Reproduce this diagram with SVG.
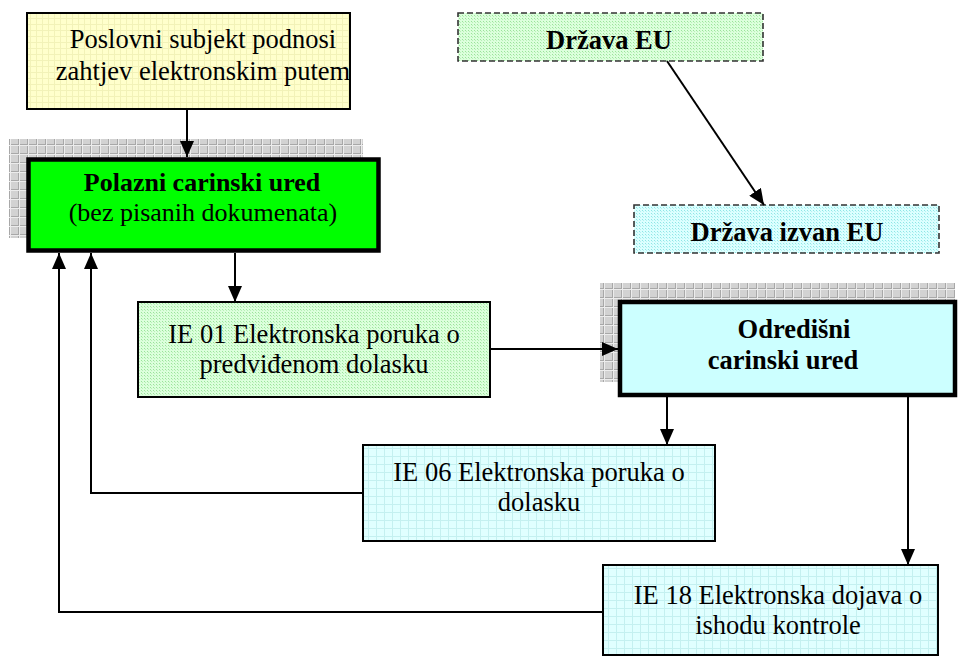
<svg xmlns="http://www.w3.org/2000/svg" width="959" height="657" viewBox="0 0 959 657">
<defs>
<style>
.t{font-family:"Liberation Serif","Times New Roman",serif;font-size:26.5px;fill:#000;text-anchor:middle}
.s{font-size:26px}
.b{font-weight:bold}
.bx{stroke:#000;stroke-width:2}
.thick{stroke:#000;stroke-width:4.5}
.dash{stroke:#333;stroke-width:1.6;stroke-dasharray:6 3}
.c{fill:none;stroke:#000;stroke-width:2}
</style>
<pattern id="grayGrid" width="9" height="9" patternUnits="userSpaceOnUse">
<rect width="9" height="9" fill="#d2d2d2"/>
<path d="M0,0.5H9M0.5,0V9" stroke="#a8a8a8" stroke-width="1"/>
<path d="M0,1.5H9M1.5,0V9" stroke="#ececec" stroke-width="1"/>
</pattern>
<pattern id="yellowGrid" width="6" height="6" patternUnits="userSpaceOnUse">
<rect width="6" height="6" fill="#ffffcc"/>
<path d="M0,0.5H6M0.5,0V6" stroke="#f2f2b8" stroke-width="1"/>
</pattern>
<pattern id="greenDot" width="3" height="3" patternUnits="userSpaceOnUse">
<rect width="3" height="3" fill="#dcffdc"/>
<rect width="1" height="1" fill="#9be39b"/>
<rect x="1" y="1" width="1" height="1" fill="#b8f0b8"/>
</pattern>
<pattern id="cyanDot" width="3" height="3" patternUnits="userSpaceOnUse">
<rect width="3" height="3" fill="#dcffff"/>
<rect width="1" height="1" fill="#8ee6e6"/>
<rect x="1" y="1" width="1" height="1" fill="#b4f2f2"/>
</pattern>
<pattern id="cyanGrid" width="8" height="8" patternUnits="userSpaceOnUse">
<rect width="8" height="8" fill="#e0ffff"/>
<path d="M0,0.5H8M0.5,0V8" stroke="#c4f0f0" stroke-width="1"/>
</pattern>
<marker id="ah" viewBox="0 0 16 14" refX="16" refY="7" markerWidth="16" markerHeight="14" orient="auto" markerUnits="userSpaceOnUse">
<path d="M0,0 L16,7 L0,14 z" fill="#000"/>
</marker>
</defs>
<rect width="959" height="657" fill="#fff"/>

<g id="node-poslovni">
<rect x="27" y="13" width="323" height="96" fill="url(#yellowGrid)" class="bx"/>
<text class="t" x="203" y="48">Poslovni subjekt podnosi</text>
<text class="t" x="203" y="80">zahtjev elektronskim putem</text>
</g>

<g id="node-polazni">
<rect x="9" y="139" width="354" height="99" fill="url(#grayGrid)"/>
<rect x="28.5" y="159.5" width="350" height="91" fill="#00ff00" class="thick"/>
<text class="t s b" x="202" y="191">Polazni carinski ured</text>
<text class="t s" x="203" y="221">(bez pisanih dokumenata)</text>
</g>

<g id="node-drzava-eu">
<rect x="458" y="13" width="305" height="48" fill="url(#greenDot)" class="dash"/>
<text class="t b" x="609" y="49">Država EU</text>
</g>

<g id="node-drzava-izvan-eu">
<rect x="634" y="205" width="305" height="48" fill="url(#cyanDot)" class="dash"/>
<text class="t b" x="787" y="241">Država izvan EU</text>
</g>

<g id="node-ie01">
<rect x="138" y="302" width="352" height="95" fill="url(#greenDot)" class="bx"/>
<text class="t" x="314" y="343">IE 01 Elektronska poruka o</text>
<text class="t" x="314" y="373">predviđenom dolasku</text>
</g>

<g id="node-odredisni">
<rect x="600" y="283" width="355" height="99" fill="url(#grayGrid)"/>
<rect x="620" y="302" width="335" height="93" fill="#ccffff" class="thick"/>
<text class="t b" x="794" y="338">Odredišni</text>
<text class="t b" x="783" y="369">carinski ured</text>
</g>

<g id="node-ie06">
<rect x="363" y="445" width="352" height="96" fill="url(#cyanGrid)" class="bx"/>
<text class="t" x="539" y="481">IE 06 Elektronska poruka o</text>
<text class="t" x="539" y="511">dolasku</text>
</g>

<g id="node-ie18">
<rect x="603" y="565" width="335" height="90" fill="url(#cyanGrid)" class="bx"/>
<text class="t" x="778" y="604">IE 18 Elektronska dojava o</text>
<text class="t" x="778" y="634">ishodu kontrole</text>
</g>

<g id="connectors">
<path class="c" d="M187,109 V157" marker-end="url(#ah)"/>
<path class="c" d="M235,253 V302" marker-end="url(#ah)"/>
<path class="c" d="M490,349 H618" marker-end="url(#ah)"/>
<path class="c" d="M667,61 L764,205" marker-end="url(#ah)"/>
<path class="c" d="M667,397 V445" marker-end="url(#ah)"/>
<path class="c" d="M908,397 V565" marker-end="url(#ah)"/>
<path class="c" d="M363,493 H91 V253" marker-end="url(#ah)"/>
<path class="c" d="M603,612 H59 V253" marker-end="url(#ah)"/>
</g>
</svg>
